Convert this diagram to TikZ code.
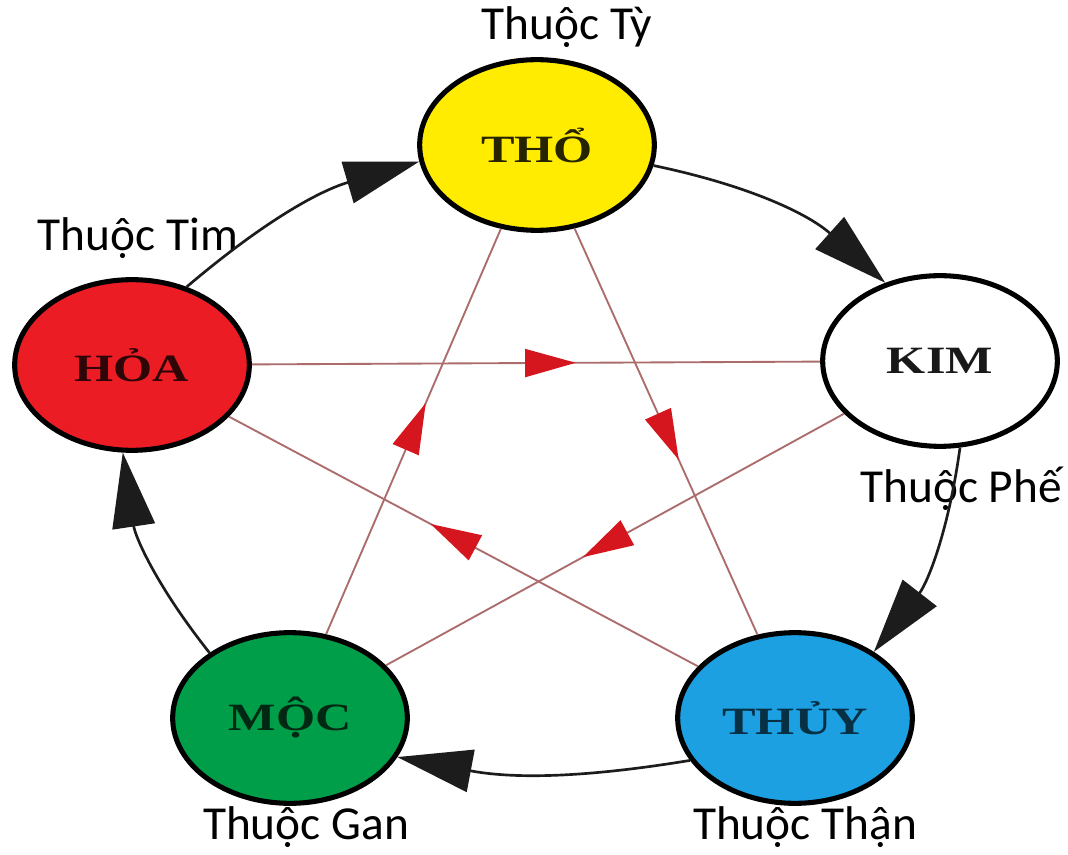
\documentclass[tikz,border=0pt]{standalone}
\usepackage{graphicx}
\usepackage{fontspec}
\setmainfont{Liberation Serif}
\newfontfamily\labelfont{Carlito}
\usetikzlibrary{arrows.meta,decorations.markings,shapes.geometric}

\definecolor{thoY}{RGB}{255,236,0}
\definecolor{hoaR}{RGB}{236,28,36}
\definecolor{mocG}{RGB}{0,158,72}
\definecolor{thuyB}{RGB}{28,160,226}
\definecolor{linkR}{RGB}{172,108,108}
\definecolor{tipR}{RGB}{214,22,30}
\definecolor{genK}{RGB}{28,28,28}

\tikzset{
  element/.style={ellipse, draw=black, line width=3.8pt,
    minimum width=176pt, minimum height=128pt, inner sep=0pt,
    font=\bfseries\fontsize{29}{31}\selectfont},
  lbl/.style={font=\labelfont\fontsize{35.5}{38}\selectfont, inner sep=0pt},
  gen/.style={draw=genK, line width=2pt,
    -{Triangle[length=56pt,width=32pt]}},
  ctrl/.style={draw=linkR, line width=1.4pt, postaction={decorate},
    decoration={markings, mark=at position 0.57 with
      {\arrow[color=tipR]{Triangle[length=38pt,width=21pt]}}}}
}

\newcommand{\wide}[1]{\scalebox{1.3}[1]{#1}}

\begin{document}
\begin{tikzpicture}[x=0.75pt,y=-0.75pt]
  \fill[white] (0,0) rectangle (1068,855);
  \useasboundingbox (0,0) rectangle (1068,855);

  % the five elements
  \node[element, fill=thoY,  text=black!85!thoY]  (tho)  at (537,145) {\wide{THỔ}};
  \node[element, fill=hoaR,  text=black!80!hoaR]  (hoa)  at (132,365) {\wide{HỎA}};
  \node[element, fill=white, text=black!90]       (kim)  at (940,361) {\wide{KIM}};
  \node[element, fill=mocG,  text=black!75!mocG]  (moc)  at (290,718) {\wide{MỘC}};
  \node[element, fill=thuyB, text=black!70!thuyB] (thuy) at (795,718) {\wide{THỦY}};

  % organ labels
  \node[lbl] (lTy)   at (567,27)  {Thuộc Tỳ};
  \node[lbl] (lTim)  at (138,238) {Thuộc Tim};
  \node[lbl] (lPhe)  at (961,489) {Thuộc Phế};
  \node[lbl] (lGan)  at (306,827) {Thuộc Gan};
  \node[lbl] (lThan) at (805,827) {Thuộc Thận};

  % controlling star
  \draw[ctrl] (hoa) -- (kim);
  \draw[ctrl] (tho) -- (thuy);
  \draw[ctrl] (kim) -- (moc);
  \draw[ctrl] (thuy) -- (hoa);
  \draw[ctrl] (moc) -- (tho);

  % generating cycle
  \draw[gen] (hoa.55)   to[bend left=12] (tho.188);
  \draw[gen] (tho.-10)  to[bend left=15] (kim.125);
  \draw[gen] (kim.-77)  to[bend left=15] (thuy.40);
  \draw[gen] (thuy.202) to[bend left=10] (moc.-20);
  \draw[gen] (moc.141)  to[bend left=15] (hoa.-96);
\end{tikzpicture}
\end{document}
